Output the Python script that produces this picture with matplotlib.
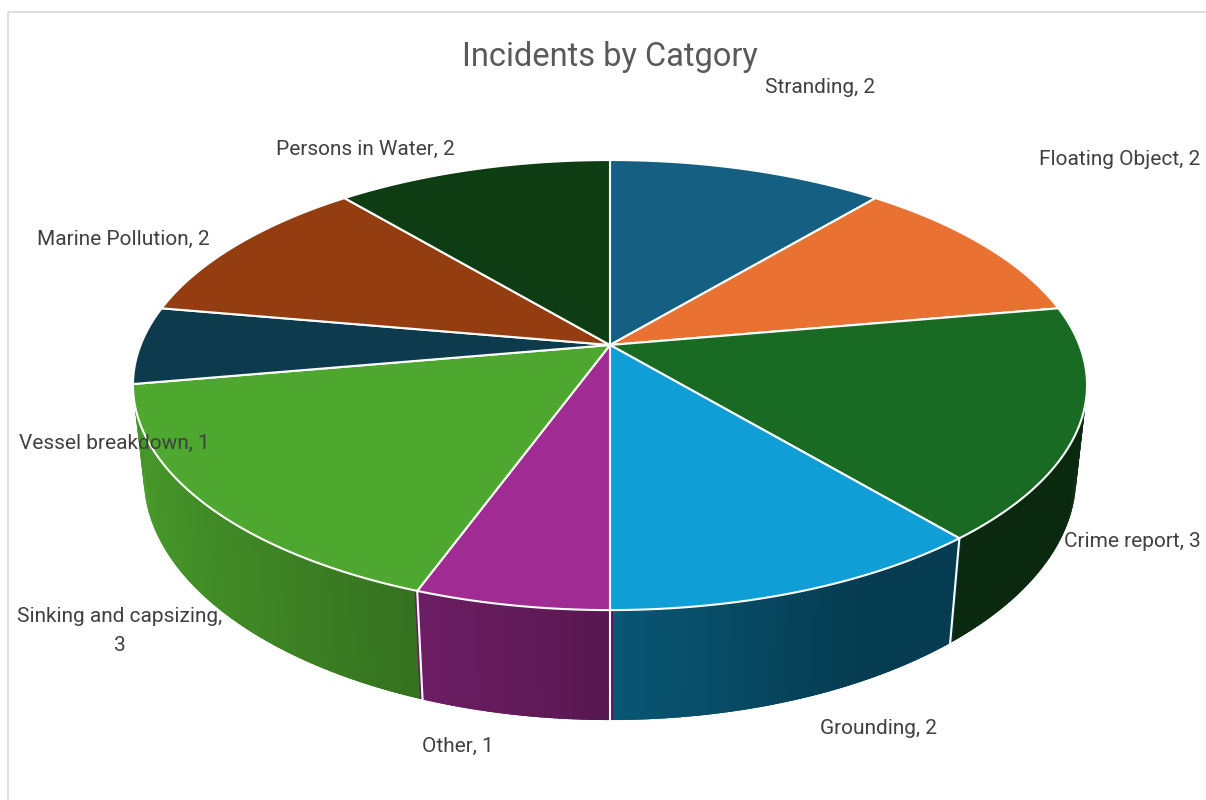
import numpy as np
import matplotlib.pyplot as plt
from matplotlib.patches import Polygon
from matplotlib.colors import to_rgb

# Incident counts per category (clockwise from 12 o'clock)
categories = ["Stranding", "Floating Object", "Crime report", "Grounding", "Other",
              "Sinking and capsizing", "Vessel breakdown", "Marine Pollution", "Persons in Water"]
counts = [2, 2, 3, 2, 1, 3, 1, 2, 2]
colors = ["#156082", "#E97132", "#196B24", "#0F9ED5", "#A02B93",
          "#4EA72E", "#0D3A4D", "#943D10", "#0E3D14"]

# label anchor positions (pixels, first-line baseline)
label_pos = [(820, 93), (1120, 165), (1132, 547), (878, 734), (458, 752),
             (120, 622), (114, 449), (123, 245), (365, 155)]

plt.rcParams['font.family'] = ['Roboto', 'DejaVu Sans']

fig = plt.figure(figsize=(12.06, 8), dpi=100)
ax = fig.add_axes([0, 0, 1, 1])
ax.set_xlim(0, 1206)
ax.set_ylim(800, 0)
ax.axis('off')

# perspective of the pie disc
cx, cy = 610, 345
A, B, k = 469.4, 217.9, 0.178
D, vp = 90.4, 4500


def top_pt(t):
    X, Y = np.sin(t), np.cos(t)
    w = 1 + k * Y
    return cx + A * X / w, cy - B * Y / w


def bot_pt(t):
    x, y = top_pt(t)
    dy = D / (1 + k * np.cos(t))
    x = x + (cx - x) * dy / (vp - y)
    return x, y + dy


vals = np.array(counts, dtype=float)
bounds = np.concatenate([[0], np.cumsum(vals) / vals.sum() * 360])

# side wall, drawn back to front in thin overlapping strips
edges = np.linspace(0, 360, 721)
strips = []
for t0, t1 in zip(edges[:-1], edges[1:]):
    mid = np.radians((t0 + t1) / 2)
    if np.cos(mid) > 0.25:
        continue
    idx = np.searchsorted(bounds, (t0 + t1) / 2, side='right') - 1
    strips.append((np.cos(mid), t0, t1, idx, np.sin(mid)))
strips.sort(key=lambda s: -s[0])
for _, t0, t1, idx, X in strips:
    # stretch each strip a little so neighbours overlap (no seams)
    a0, a1 = np.radians(t0 - 0.3), np.radians(t1 + 0.3)
    f = np.clip(0.55 - 0.38 * X, 0.38, 1.0)
    c = np.array(to_rgb(colors[idx])) * f
    ax.add_patch(Polygon([top_pt(a0), top_pt(a1), bot_pt(a1), bot_pt(a0)],
                         closed=True, fc=c, ec='none', zorder=1))

# white seams on the side wall
for b in bounds:
    if 100.5 < b < 259.5:
        r = np.radians(b)
        (x0, y0), (x1, y1) = top_pt(r), bot_pt(r)
        ax.plot([x0, x1], [y0, y1], color='white', lw=1.5, zorder=2)

# top face wedges
for i in range(len(counts)):
    ts = np.radians(np.linspace(bounds[i], bounds[i + 1], 80))
    pts = [(cx, cy)] + [top_pt(t) for t in ts]
    ax.add_patch(Polygon(pts, closed=True, fc=colors[i], ec='white', lw=1.5,
                         joinstyle='round', zorder=3))

# data labels
for cat, n, (x, y) in zip(categories, counts, label_pos):
    sep = "\n" if len(cat) > 18 else " "
    for j, line in enumerate(f"{cat},{sep}{n}".split("\n")):
        ax.text(x, y + 29 * j, line, fontsize=15, color='#404040',
                ha='center', va='baseline', zorder=5)

ax.text(610, 66, "Incidents by Catgory", fontsize=23.5, color='#595959',
        ha='center', va='baseline', zorder=5)

# chart area border
ax.plot([7.5, 7.5, 1210], [805, 11.5, 11.5], color='#d9d9d9', lw=1.2, zorder=0)

fig.savefig("out.png", dpi=100)
